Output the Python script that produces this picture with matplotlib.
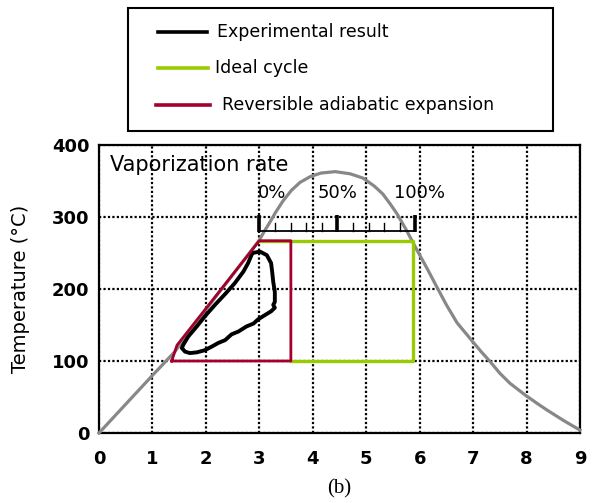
import numpy as np
import matplotlib.pyplot as plt
from matplotlib.lines import Line2D
from matplotlib.patches import Rectangle

# saturation dome (entropy vs temperature)
dome_s = [0, 0.5, 1.0, 1.42, 1.8, 2.4, 3.0, 3.1, 3.2, 3.3, 3.44, 3.6, 3.76, 3.95,
          4.15, 4.42, 4.7, 4.94, 5.15, 5.31, 5.45, 5.58, 5.75, 5.95, 6.15, 6.32,
          6.5, 6.7, 6.98, 7.15, 7.32, 7.5, 7.69, 7.97, 8.2, 8.38, 8.7, 9.0]
dome_t = [0, 40, 80, 113, 152, 210, 268, 281, 293, 306, 322, 337, 348, 356,
          361, 363, 360, 354, 343, 332, 318, 304, 282, 254, 227, 203,
          178, 153, 128, 113, 99, 83, 69, 53, 41, 32, 17, 4]

# ideal cycle
ideal_s = [3.0, 5.88, 5.88, 3.59]
ideal_t = [267, 267, 100, 100]

# reversible adiabatic expansion
rev_s = [1.36, 1.46, 3.0, 3.59, 3.59, 1.36]
rev_t = [100, 122, 267, 267, 100, 100]

# measured loop
exp_s = [2.87, 3.01, 3.14, 3.22, 3.24, 3.26, 3.29, 3.29, 3.26, 3.29, 3.22, 3.11,
         2.98, 2.89, 2.76, 2.61, 2.48, 2.36, 2.23, 2.11, 1.98, 1.83, 1.70, 1.61,
         1.55, 1.58, 1.67, 1.83, 1.98, 2.17, 2.36, 2.54, 2.70, 2.79, 2.87]
exp_t = [250, 252, 247, 236, 224, 210, 196, 182, 178, 174, 169, 164,
         158, 152, 148, 141, 137, 129, 125, 120, 115, 112, 111, 113,
         118, 123, 134, 148, 162, 178, 193, 208, 224, 236, 250]

# vaporization rate ruler
vap_pct = np.arange(0, 101, 10)
vap_labels = ['0%', '50%', '100%']
ruler_s0, ruler_s1, ruler_t = 3.0, 5.92, 280

W, H = 599, 503
fig = plt.figure(figsize=(W / 100, H / 100), dpi=100)
ax = fig.add_axes([99 / W, 1 - 433 / H, 481 / W, 288 / H])

ax.set_xlim(0, 9)
ax.set_ylim(0, 400)
ax.set_xticks(range(10))
ax.set_yticks([0, 100, 200, 300, 400])
ax.tick_params(length=0, labelsize=13, pad=7)
ax.tick_params(axis='x', pad=12)
for lab in ax.get_xticklabels() + ax.get_yticklabels():
    lab.set_fontweight('bold')
for sp in ax.spines.values():
    sp.set_linewidth(1.6)
ax.grid(True, color='black', linestyle=(0, (1, 1)), linewidth=1.6)
ax.set_axisbelow(True)
ax.set_ylabel('Temperature (°C)', fontsize=14, labelpad=16)

red = '#a3002c'
green = '#99cc00'
gray = '#888888'

ax.plot(dome_s, dome_t, color=gray, lw=2.3, zorder=3, clip_on=False,
        solid_joinstyle='round')
ax.plot(ideal_s, ideal_t, color=green, lw=2.4, zorder=4)
ax.plot(exp_s, exp_t, color='black', lw=2.8, zorder=5, solid_joinstyle='round')
ax.plot(rev_s, rev_t, color=red, lw=2.0, zorder=6)

# ruler with 10% divisions
tick_s = ruler_s0 + vap_pct / 100 * (ruler_s1 - ruler_s0)
ax.plot([ruler_s0, ruler_s1], [ruler_t, ruler_t], color='black', lw=1.3, zorder=7)
for p, s in zip(vap_pct, tick_s):
    if p % 50 == 0:
        ax.plot([s, s], [ruler_t - 1, ruler_t + 23], color='black', lw=2.6, zorder=7,
                solid_capstyle='butt')
    else:
        ax.plot([s, s], [ruler_t, ruler_t + 12], color='black', lw=1.0, zorder=7)
ax.text(tick_s[0] - 0.03, 333, vap_labels[0], ha='left', va='center', fontsize=13, zorder=8)
ax.text(tick_s[5], 333, vap_labels[1], ha='center', va='center', fontsize=13, zorder=8)
ax.text(tick_s[10] + 0.08, 333, vap_labels[2], ha='center', va='center', fontsize=13, zorder=8)
ax.text(0.2, 372, 'Vaporization rate', ha='left', va='center', fontsize=15, zorder=8)

# legend box
def fx(px):
    return px / W

def fy(py):
    return 1 - py / H

fig.patches.append(Rectangle((fx(128), fy(131)), fx(553) - fx(128), fy(8) - fy(131),
                             transform=fig.transFigure, fill=False,
                             edgecolor='black', lw=1.5))
entries = [('Experimental result', 'black', 32, 158, 207, 217),
           ('Ideal cycle', green, 68, 158, 208, 215),
           ('Reversible adiabatic expansion', red, 105, 156, 210, 222)]
for label, c, py, x0, x1, tx in entries:
    fig.lines.append(Line2D([fx(x0), fx(x1)], [fy(py), fy(py)], color=c, lw=2.6,
                            transform=fig.transFigure))
    fig.text(fx(tx), fy(py), label, ha='left', va='center', fontsize=12.5)

fig.text(fx(339), fy(489), '(b)', ha='center', va='center', fontsize=15,
         family='Liberation Serif')

fig.savefig('out.png', dpi=100)
